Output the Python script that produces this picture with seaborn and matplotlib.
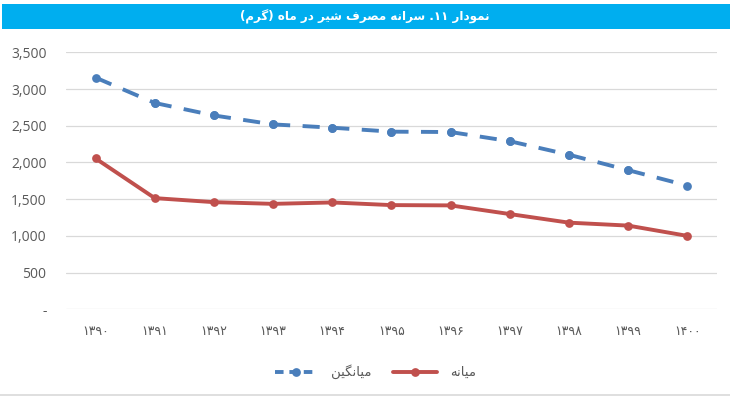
import pandas as pd
import seaborn as sns
import matplotlib.pyplot as plt
from matplotlib.patches import Rectangle
from matplotlib.lines import Line2D
from matplotlib.ticker import FuncFormatter

# داده ها
years = ['۱۳۹۰', '۱۳۹۱', '۱۳۹۲', '۱۳۹۳', '۱۳۹۴', '۱۳۹۵', '۱۳۹۶', '۱۳۹۷', '۱۳۹۸', '۱۳۹۹', '۱۴۰۰']
mean_vals = [3155, 2810, 2640, 2518, 2473, 2419, 2414, 2289, 2105, 1895, 1685]
median_vals = [2054, 1514, 1459, 1436, 1455, 1419, 1415, 1297, 1180, 1140, 1000]
title_text = 'نمودار ۱۱. سرانه مصرف شیر در ماه (گرم)'
mean_name = 'میانگین'
median_name = 'میانه'

blue = '#4A7EBB'
red = '#C0504D'

# شکل دادن ساده حروف فارسی (matplotlib خودش اتصال و راست به چپ را انجام نمی دهد)
FORMS = {
    'ا': ('\uFE8D', '\uFE8E', None, None),
    'د': ('\uFEA9', '\uFEAA', None, None),
    'ر': ('\uFEAD', '\uFEAE', None, None),
    'و': ('\uFEED', '\uFEEE', None, None),
    'ن': ('\uFEE5', '\uFEE6', '\uFEE7', '\uFEE8'),
    'م': ('\uFEE1', '\uFEE2', '\uFEE3', '\uFEE4'),
    'س': ('\uFEB1', '\uFEB2', '\uFEB3', '\uFEB4'),
    'ش': ('\uFEB5', '\uFEB6', '\uFEB7', '\uFEB8'),
    'ص': ('\uFEB9', '\uFEBA', '\uFEBB', '\uFEBC'),
    'ف': ('\uFED1', '\uFED2', '\uFED3', '\uFED4'),
    'ه': ('\uFEE9', '\uFEEA', '\uFEEB', '\uFEEC'),
    'ی': ('\uFBFC', '\uFBFD', '\uFBFE', '\uFBFF'),
    'گ': ('\uFB92', '\uFB93', '\uFB94', '\uFB95'),
}


def rtl(s):
    out = []
    for i, c in enumerate(s):
        if c not in FORMS:
            out.append(c)
            continue
        prev = s[i - 1] if i > 0 else ''
        nxt = s[i + 1] if i < len(s) - 1 else ''
        j_prev = prev in FORMS and FORMS[prev][2] is not None
        j_next = FORMS[c][2] is not None and nxt in FORMS
        iso, fin, ini, med = FORMS[c]
        if j_prev and j_next:
            out.append(med)
        elif j_prev:
            out.append(fin)
        elif j_next:
            out.append(ini)
        else:
            out.append(iso)
    vis = ''.join(out)[::-1]
    return vis.translate(str.maketrans('()', ')('))


# خط چین میانگین: هر پاره جدا کشیده می شود تا الگوی خط چین از هر نقطه از نو شروع شود (مثل اکسل)
seg_rows = []
for i in range(len(years) - 1):
    seg_rows.append({'year': years[i], 'value': mean_vals[i], 'seg': i})
    seg_rows.append({'year': years[i + 1], 'value': mean_vals[i + 1], 'seg': i})
mean_df = pd.DataFrame(seg_rows)
median_df = pd.DataFrame({'year': years, 'value': median_vals})

sns.set_theme(style='white')
plt.rcParams['font.family'] = ['Open Sans', 'DejaVu Sans']

fig = plt.figure(figsize=(7.3, 3.97), dpi=100)
ax = fig.add_axes([0.0904, 0.2209, 0.8916, 0.6474])

sns.lineplot(data=median_df, x='year', y='value', color=red,
             linewidth=2.8, marker='o', markersize=6.3, markeredgewidth=0,
             ax=ax, sort=False)
sns.lineplot(data=mean_df, x='year', y='value', units='seg', estimator=None, color=blue,
             linewidth=2.8, marker='o', markersize=6.3, markeredgewidth=0,
             ax=ax, sort=False)
for ln in ax.lines[1:]:
    ln.set_linestyle((0, (4.4, 3.2)))

ax.set_xlim(-0.5, len(years) - 0.5)
ax.set_ylim(0, 3500)
ax.set_yticks(range(0, 3501, 500))
ax.yaxis.set_major_formatter(FuncFormatter(lambda v, p: '-' if v == 0 else f'{int(v):,}'))
ax.grid(axis='y', color='#D9D9D9', linewidth=0.9)
ax.set_axisbelow(True)
for s in ax.spines.values():
    s.set_visible(False)
ax.set_xlabel('')
ax.set_ylabel('')
ax.tick_params(axis='y', length=0, pad=14, labelsize=10, labelcolor='#595959')
ax.tick_params(axis='x', length=0, pad=11, labelsize=9, labelcolor='#595959')

# نوار عنوان
fig.patches.append(Rectangle((0.003, 0.927), 0.997, 0.063, transform=fig.transFigure,
                             facecolor='#00AEEF', edgecolor='none'))
fig.text(0.5, 0.9585, rtl(title_text), color='white', fontsize=8.6, fontweight='bold',
         ha='center', va='center', family=['DejaVu Sans'])

# خط پایین
fig.lines.append(Line2D([0, 1], [0.004, 0.004], transform=fig.transFigure,
                        color='#D9D9D9', linewidth=1.2))

handles = [
    Line2D([], [], color=blue, linewidth=2.8, linestyle=(0, (2.2, 1.5)), marker='o',
           markersize=6.3, markeredgewidth=0),
    Line2D([], [], color=red, linewidth=2.8, marker='o', markersize=6.3, markeredgewidth=0),
]
fig.legend(handles, [rtl(mean_name), rtl(median_name)], loc='center',
           bbox_to_anchor=(0.514, 0.063), ncol=2, frameon=False,
           handlelength=3.3, columnspacing=1.6, handletextpad=1.0,
           labelcolor='#595959', prop={'family': 'DejaVu Sans', 'size': 9.5})

fig.savefig('out.png', dpi=100)
